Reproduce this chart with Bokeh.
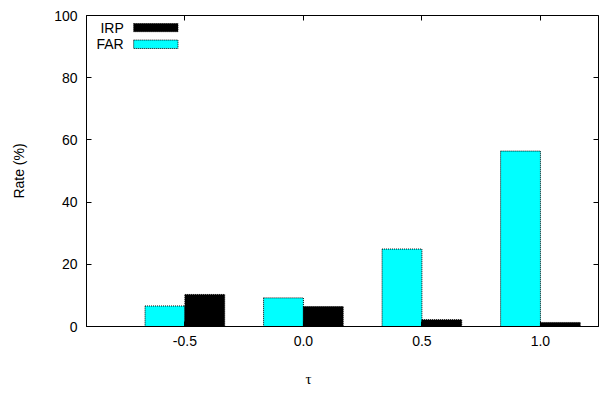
from bokeh.plotting import figure
from bokeh.models import (ColumnDataSource, FixedTicker, LinearAxis, Label, BoxAnnotation,
                          Range1d, CustomLabelingPolicy, Title)
from bokeh.transform import dodge
from bokeh.embed import file_html
from bokeh.resources import INLINE

# ---- data ----
taus = [-0.5, 0.0, 0.5, 1.0]
tau_labels = ["-0.5", "0.0", "0.5", "1.0"]
irp = [10.3, 6.4, 2.2, 1.3]
far = [6.6, 9.2, 24.9, 56.4]
series_names = ["IRP", "FAR"]
series_colors = ["#000000", "#00FFFF"]
y_ticks = [0, 20, 40, 60, 80, 100]
x_title = "τ"
y_title = "Rate (%)"

FONT = "Liberation Sans"
FS = "14px"
BW = 0.168

src = ColumnDataSource(data=dict(tau=taus, IRP=irp, FAR=far))

p = figure(width=603, height=406, output_backend="svg", toolbar_location=None,
           x_range=Range1d(-0.915, 1.245), y_range=Range1d(0, 100),
           min_border_left=86, min_border_right=1, min_border_top=15, min_border_bottom=80)

p.vbar(x=dodge("tau", -BW / 2, range=p.x_range), top="FAR", width=BW, source=src,
       fill_color=series_colors[1], line_color="#000000", line_dash="1 1", line_width=1)
p.vbar(x=dodge("tau", BW / 2, range=p.x_range), top="IRP", width=BW, source=src,
       fill_color=series_colors[0], line_color="#000000", line_dash="1 1", line_width=1)

p.xgrid.visible = False
p.ygrid.visible = False
p.outline_line_color = "black"
p.outline_line_width = 1
p.background_fill_color = "white"
p.border_fill_color = "white"

for ax in p.xaxis:
    ax.ticker = FixedTicker(ticks=taus)
    ax.major_label_overrides = {t: l for t, l in zip(taus, tau_labels)}
    ax.major_tick_in = 5
    ax.major_tick_out = 0
    ax.minor_tick_line_color = None
    ax.major_label_text_font = FONT
    ax.major_label_text_font_size = FS
    ax.major_label_text_color = "black"
    ax.major_label_standoff = 9
    ax.axis_line_color = "black"

for ax in p.yaxis:
    ax.ticker = FixedTicker(ticks=y_ticks)
    ax.major_tick_in = 5
    ax.major_tick_out = 0
    ax.minor_tick_line_color = None
    ax.major_label_text_font = FONT
    ax.major_label_text_font_size = FS
    ax.major_label_text_color = "black"
    ax.major_label_standoff = 9
    ax.axis_label = y_title
    ax.axis_label_text_font = FONT
    ax.axis_label_text_font_size = FS
    ax.axis_label_text_font_style = "normal"
    ax.axis_label_text_color = "black"
    ax.axis_label_standoff = 24
    ax.axis_line_color = "black"

# mirrored ticks (gnuplot style), without labels
top_ax = LinearAxis(ticker=FixedTicker(ticks=taus), major_tick_in=5, major_tick_out=0,
                    minor_tick_line_color=None, major_label_text_font_size="1px",
                    major_label_policy=CustomLabelingPolicy(code="return []"),
                    major_label_standoff=0, axis_line_color=None)
right_ax = LinearAxis(ticker=FixedTicker(ticks=y_ticks), major_tick_in=5, major_tick_out=0,
                      minor_tick_line_color=None, major_label_text_font_size="1px",
                      major_label_policy=CustomLabelingPolicy(code="return []"),
                      major_label_standoff=0, axis_line_color=None)
p.add_layout(top_ax, "above")
p.add_layout(right_ax, "right")

# x axis title (offset left of centre, as in reference)
p.add_layout(Title(text=x_title, align="left", offset=219, standoff=40, vertical_align="bottom",
                   text_font="Liberation Serif", text_font_size="15px",
                   text_font_style="normal", text_color="black"), "below")

# gnuplot-style key: label left, sample right
key_y = [(95.9, 97.4, 94.8), (90.7, 92.1, 89.4)]
for name, color, (ty, bt, bb) in zip(series_names, series_colors, key_y):
    p.add_layout(Label(x=-0.758, y=ty, text=name, text_align="right", text_baseline="middle",
                       text_font=FONT, text_font_size=FS, text_color="black"))
    p.add_layout(BoxAnnotation(left=-0.716, right=-0.529, top=bt, bottom=bb,
                               fill_color=color, fill_alpha=1.0, line_color="#000000",
                               line_dash="1 1", line_width=1, line_alpha=1.0))

open("out.html", "w").write(file_html(p, INLINE))
